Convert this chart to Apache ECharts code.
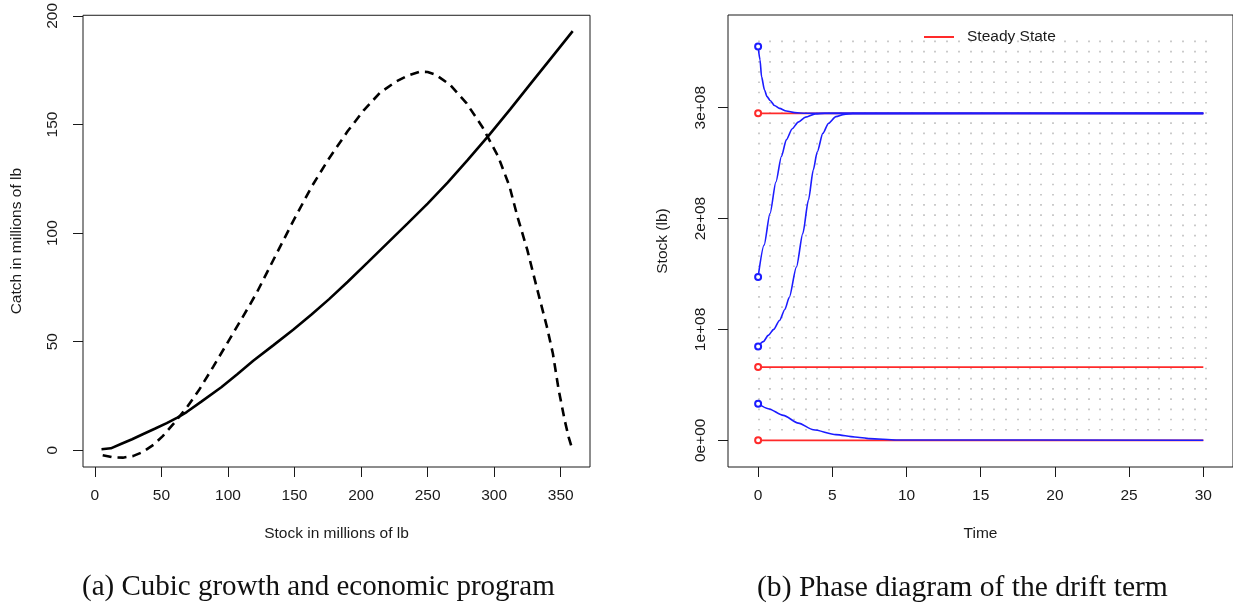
<!DOCTYPE html>
<html>
<head>
<meta charset="utf-8">
<script src="https://cdn.jsdelivr.net/npm/echarts@6/dist/echarts.min.js"></script>
<style>
  html, body { margin: 0; padding: 0; background: #fff; }
  #chart { width: 1233px; height: 605px; }
</style>
</head>
<body>
<div id="chart"></div>
<script>
// (a) stock (millions of lb) vs catch / growth
var stockTicks = [0, 50, 100, 150, 200, 250, 300, 350];
var catchTicks = [0, 50, 100, 150, 200];
// solid: economic program
var economicCatch = [
  [5, 0.5], [12, 0.9], [20, 3], [28, 5.1], [36, 7.4], [45, 9.9], [54, 12.5], [62, 15],
  [69, 17.6], [80, 22.4], [95, 29], [107, 35], [119, 41.2], [134, 48.3], [149, 55.5],
  [163, 62.6], [176, 69.6], [190, 77.6], [205, 86.5], [220, 95.5], [235, 104.5], [250, 113.6],
  [265, 123.2], [280, 133.6], [296, 145], [312, 157], [328, 169.3], [344, 181.5], [359, 193]
];
// dashed: cubic growth
var cubicGrowth = [
  [5.9, -2.3], [13, -3.2], [21, -3.4], [29, -2.6], [36, -0.8], [44, 2.5], [51, 6.5],
  [60, 12.8], [70, 20.5], [78, 27.5], [89, 38.5], [104, 54], [116, 66.5], [122, 73],
  [134, 87.5], [149, 105.5], [163, 121.5], [175, 133.5], [190, 147], [202, 156.5],
  [214, 164.5], [226, 169.7], [235, 172.5], [244, 174.3], [250, 174.2], [256, 173],
  [267, 168.2], [279, 160], [291, 149], [303, 135.3], [311.5, 121.6], [317.4, 107.8],
  [324.8, 92.5], [332.2, 74.5], [339.6, 56.9], [344.1, 44.6], [348.5, 27.7], [353, 13.8],
  [355.9, 6.2], [358.9, 0]
];

// (b) phase diagram, stock in units of 1e8 lb
var timeTicks = [0, 5, 10, 15, 20, 25, 30];
var stockE8Ticks = [0, 1, 2, 3];
var stockE8Labels = ['0e+00', '1e+08', '2e+08', '3e+08'];
var steadyStates = [2.949, 0.66, 0];
var pathHigh = [
  [0, 3.551], [0.13, 3.43], [0.23, 3.28], [0.43, 3.16], [0.6, 3.1], [0.81, 3.065],
  [1.1, 3.02], [1.44, 2.994], [1.9, 2.97], [2.46, 2.955], [3.2, 2.95], [30, 2.949]
];
var pathMid = [
  [0, 1.473], [0.4, 1.76], [0.8, 2.045], [1.2, 2.33], [1.57, 2.56], [1.9, 2.71],
  [2.3, 2.81], [2.7, 2.87], [3.2, 2.915], [3.85, 2.944], [4.5, 2.949], [30, 2.949]
];
var pathLow = [
  [0, 0.847], [0.35, 0.89], [0.68, 0.946], [1.05, 1.0], [1.44, 1.081], [1.8, 1.18],
  [2.1, 1.29], [2.58, 1.563], [3.01, 1.864], [3.39, 2.166], [3.72, 2.44], [3.98, 2.6],
  [4.36, 2.768], [4.74, 2.858], [5.24, 2.919], [5.8, 2.94], [6.38, 2.946], [30, 2.949]
];
var pathExtinct = [
  [0, 0.33], [0.68, 0.285], [1.7, 0.225], [2.71, 0.155], [3.72, 0.095], [5.24, 0.051],
  [6.51, 0.03], [7.52, 0.015], [9.3, 0.003], [30, 0]
];
// background dot lattice: columns / rows
var latticeCols = 38;
var latticeRows = 39;
var latticeTop = 3.596;

var FONT = "'Liberation Sans', Arial, sans-serif";
var INK = '#1a1a1a';
var RED = '#ff2a2a';
var BLUE = '#1c1cff';

var chart = echarts.init(document.getElementById('chart'));

// open circle on the first point only
function withStartCircle(points) {
  return points.map(function (p, i) {
    if (i === 0) return { value: p };
    return { value: p, symbol: 'none', symbolSize: 0 };
  });
}

function valueAxis(gridIndex, min, max, ticks, extra) {
  var ax = {
    type: 'value', gridIndex: gridIndex, min: min, max: max,
    axisLine: { show: false, onZero: false },
    axisTick: { show: true, length: 10, customValues: ticks, lineStyle: { color: INK, width: 1 } },
    axisLabel: { customValues: ticks, color: INK, fontFamily: FONT, fontSize: 15.5, margin: 21 },
    splitLine: { show: false },
    nameLocation: 'middle',
    nameTextStyle: { color: INK, fontFamily: FONT, fontSize: 15.5 }
  };
  return Object.assign(ax, extra || {});
}

// right panel mapping
var rX0 = 758.3, rPxPerT = 14.93, rY0 = 440, rPxPerE8 = 110.85;

var series = [
  { type: 'line', xAxisIndex: 0, yAxisIndex: 0, data: economicCatch, symbol: 'none',
    lineStyle: { color: '#000', width: 2.6 } },
  { type: 'line', xAxisIndex: 0, yAxisIndex: 0, data: cubicGrowth, symbol: 'none',
    lineStyle: { color: '#000', width: 2.6, type: [9, 6] } }
];
steadyStates.forEach(function (s) {
  series.push({ name: 'Steady State', type: 'line', xAxisIndex: 1, yAxisIndex: 1,
    data: withStartCircle([[0, s], [30, s]]), symbol: 'emptyCircle', symbolSize: 6,
    showAllSymbol: true,
    itemStyle: { color: RED, borderWidth: 1.5 }, lineStyle: { color: RED, width: 1.8 }, z: 3 });
});
[pathHigh, pathMid, pathLow, pathExtinct].forEach(function (p, i) {
  series.push({ name: 'path' + i, type: 'line', xAxisIndex: 1, yAxisIndex: 1,
    data: withStartCircle(p), symbol: 'emptyCircle', symbolSize: 6, showAllSymbol: true,
    smooth: 0.25, smoothMonotone: 'x',
    itemStyle: { color: BLUE, borderWidth: 1.5 }, lineStyle: { color: BLUE, width: 1.6 }, z: 4 });
});

var latticeGridTop = rY0 - latticeTop * rPxPerE8 - 0.8;
var latticeGridH = latticeTop * rPxPerE8;
var rowGap = latticeGridH / latticeRows;

var option = {
  backgroundColor: '#fff',
  animation: false,
  grid: [
    { left: 83, top: 15, width: 507, height: 452, show: true, borderColor: INK, borderWidth: 1 },
    { left: 728, top: 15, right: -3, height: 452, show: true, borderColor: INK, borderWidth: 1 },
    { left: rX0, top: latticeGridTop, width: 30 * rPxPerT, height: latticeGridH, show: false }
  ],
  xAxis: [
    valueAxis(0, -8.9, 372, stockTicks, { name: 'Stock in millions of lb', nameGap: 59 }),
    valueAxis(1, -2.03, 32.0, timeTicks, { name: 'Time', nameGap: 59 }),
    { type: 'value', gridIndex: 2, min: 0, max: 30, interval: 30 / latticeCols,
      axisLine: { show: false }, axisTick: { show: false }, axisLabel: { show: false },
      splitLine: { show: true, lineStyle: { color: '#bdbdbd', width: 1.6, type: [1.6, rowGap - 1.6] } } }
  ],
  yAxis: [
    valueAxis(0, -7.7, 200.3, catchTicks, { name: 'Catch in millions of lb', nameGap: 58,
      axisLabel: { customValues: catchTicks, rotate: 90, color: INK, fontFamily: FONT, fontSize: 15.5, margin: 22 } }),
    valueAxis(1, -0.241, 3.836, stockE8Ticks, { name: 'Stock (lb)', nameGap: 57,
      axisLabel: { customValues: stockE8Ticks, rotate: 90, color: INK, fontFamily: FONT, fontSize: 15.5, margin: 19,
        formatter: function (v) { return stockE8Labels[stockE8Ticks.indexOf(v)]; } } }),
    { type: 'value', gridIndex: 2, min: 0, max: 1, show: false, splitLine: { show: false } }
  ],
  legend: {
    data: ['Steady State'], left: 919, top: 24, icon: 'rect', itemWidth: 30, itemHeight: 2,
    textStyle: { color: INK, fontFamily: FONT, fontSize: 15.5, padding: [0, 0, 0, 8] },
    selectedMode: false
  },
  graphic: [
    { type: 'text', left: 82, top: 573, style: { text: '(a) Cubic growth and economic program',
      fill: '#111', font: "29px 'Liberation Serif', 'Times New Roman', serif" } },
    { type: 'text', left: 757, top: 573, style: { text: '(b) Phase diagram of the drift term',
      fill: '#111', font: "29.6px 'Liberation Serif', 'Times New Roman', serif" } }
  ],
  series: series
};

chart.setOption(option);
</script>
</body>
</html>
